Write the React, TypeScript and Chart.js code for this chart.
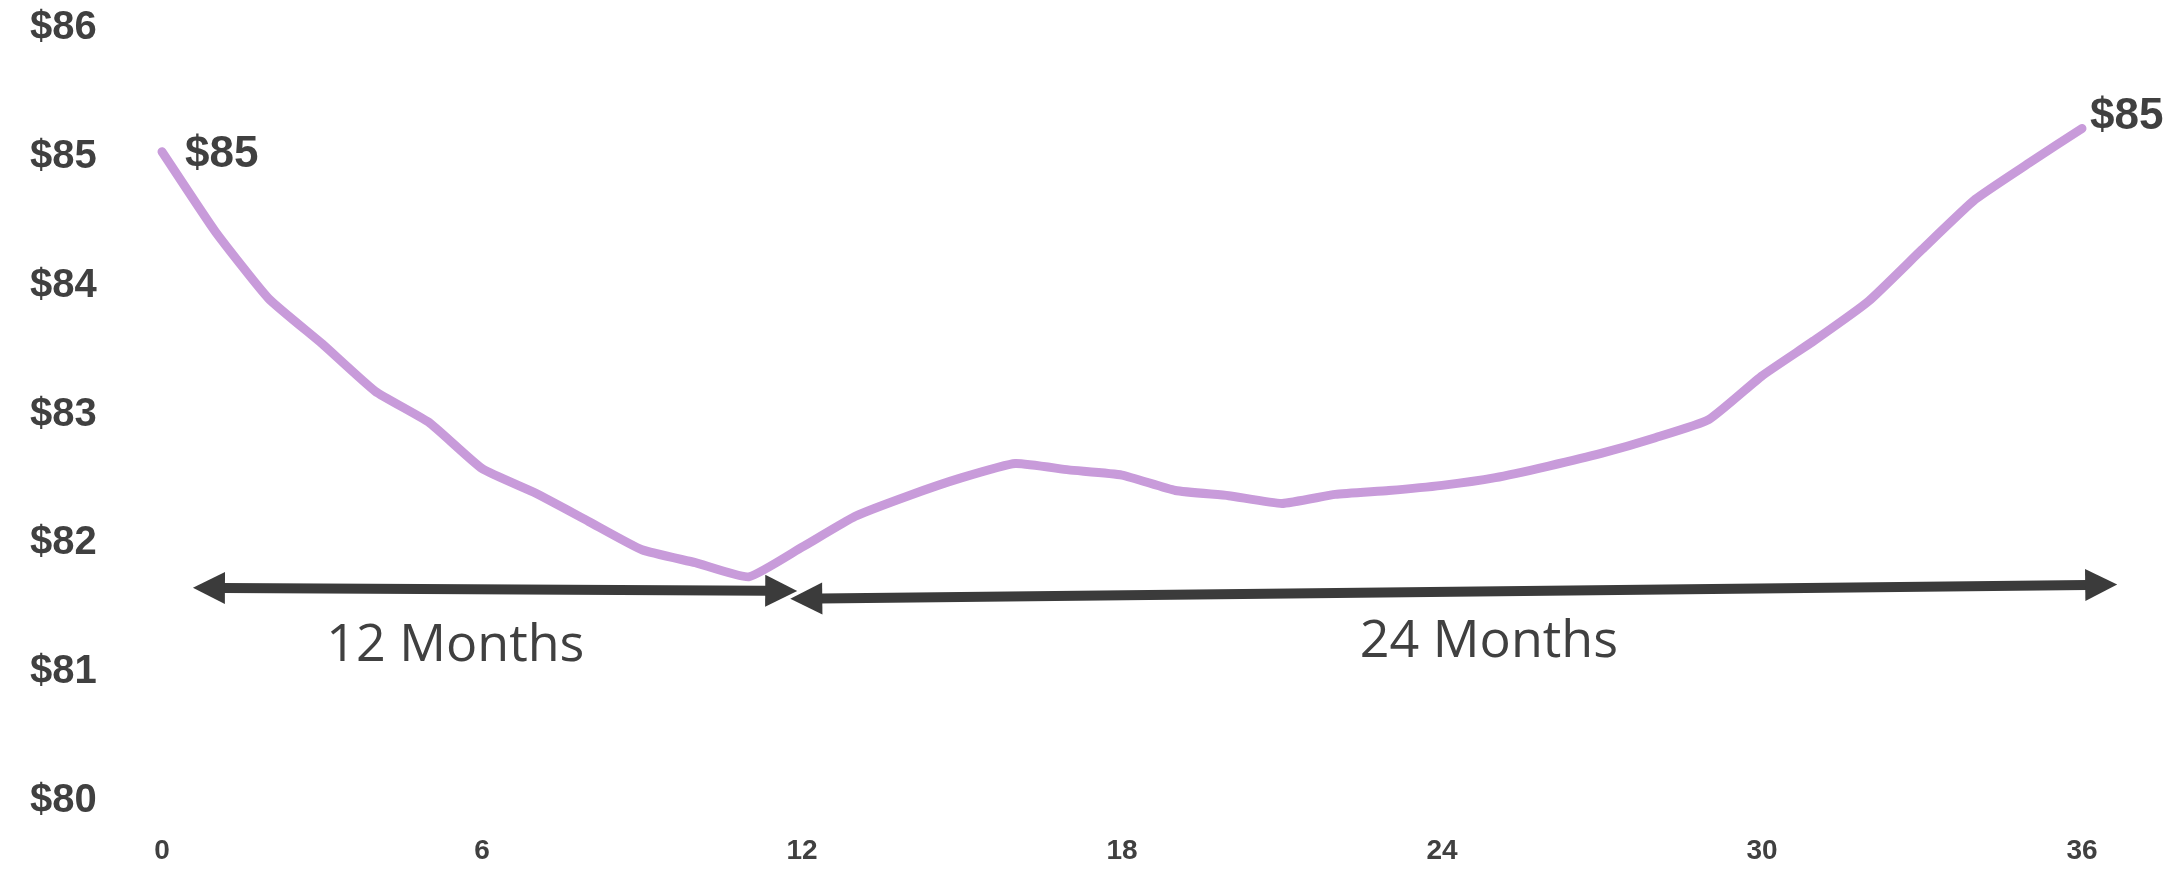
import React, { useEffect, useRef } from "react";
import { Chart, registerables } from "chart.js";

Chart.register(...registerables);

// ---- data ----
const months = [0, 1, 2, 3, 4, 5, 6, 7, 8, 9, 10, 11, 12, 13, 14, 15, 16, 17, 18, 19, 20, 21, 22, 23, 24, 25, 26, 27, 28, 29, 30, 31, 32, 33, 34, 35, 36];
const prices = [
  85.04, 84.42, 83.9, 83.55, 83.18, 82.94, 82.58, 82.39, 82.17, 81.95, 81.85, 81.74,
  81.97, 82.21, 82.37, 82.51, 82.62, 82.57, 82.53, 82.41, 82.37, 82.31, 82.38, 82.41,
  82.45, 82.51, 82.6, 82.7, 82.82, 82.96, 83.3, 83.58, 83.88, 84.28, 84.67, 84.95, 85.22,
];
const xTickValues = [0, 6, 12, 18, 24, 30, 36];
const yTickValues = [80, 81, 82, 83, 84, 85, 86];

// span arrows (double headed), in month / price units
const arrowFromMonth = [0.58, 11.78];
const arrowToMonth = [11.91, 36.66];
const arrowFromPrice = [81.655, 81.57];
const arrowToPrice = [81.63, 81.68];

const spanLabels = ["12 Months", "24 Months"];
const spanLabelMonth = [5.5, 24.88];
const spanLabelPrice = [81.2, 81.23];

const endLabels = ["$85", "$85"];
const endLabelIndex = [0, 36];

const LINE_COLOR = "#C89BDA";
const DARK = "#3b3b3b";
const TEXT = "#404040";

function drawDoubleArrow(ctx: CanvasRenderingContext2D, x1: number, y1: number, x2: number, y2: number) {
  const headLen = 32;
  const headHalf = 16;
  const dx = x2 - x1;
  const dy = y2 - y1;
  const len = Math.hypot(dx, dy);
  const ux = dx / len;
  const uy = dy / len;
  const nx = -uy;
  const ny = ux;
  ctx.save();
  ctx.strokeStyle = DARK;
  ctx.fillStyle = DARK;
  ctx.lineWidth = 10;
  ctx.lineCap = "butt";
  ctx.beginPath();
  ctx.moveTo(x1 + ux * (headLen - 2), y1 + uy * (headLen - 2));
  ctx.lineTo(x2 - ux * (headLen - 2), y2 - uy * (headLen - 2));
  ctx.stroke();
  ctx.beginPath();
  ctx.moveTo(x1, y1);
  ctx.lineTo(x1 + ux * headLen + nx * headHalf, y1 + uy * headLen + ny * headHalf);
  ctx.lineTo(x1 + ux * headLen - nx * headHalf, y1 + uy * headLen - ny * headHalf);
  ctx.closePath();
  ctx.fill();
  ctx.beginPath();
  ctx.moveTo(x2, y2);
  ctx.lineTo(x2 - ux * headLen + nx * headHalf, y2 - uy * headLen + ny * headHalf);
  ctx.lineTo(x2 - ux * headLen - nx * headHalf, y2 - uy * headLen - ny * headHalf);
  ctx.closePath();
  ctx.fill();
  ctx.restore();
}

const annotationPlugin = {
  id: "spanAnnotations",
  afterDatasetsDraw(chart: any) {
    const { ctx, scales } = chart;
    const xs = scales.x;
    const ys = scales.y;
    for (let i = 0; i < arrowFromMonth.length; i++) {
      drawDoubleArrow(
        ctx,
        xs.getPixelForValue(arrowFromMonth[i]),
        ys.getPixelForValue(arrowFromPrice[i]),
        xs.getPixelForValue(arrowToMonth[i]),
        ys.getPixelForValue(arrowToPrice[i])
      );
    }
    ctx.save();
    ctx.fillStyle = TEXT;
    ctx.font = "52px 'Open Sans', sans-serif";
    ctx.textAlign = "center";
    ctx.textBaseline = "middle";
    for (let i = 0; i < spanLabels.length; i++) {
      ctx.fillText(spanLabels[i], xs.getPixelForValue(spanLabelMonth[i]), ys.getPixelForValue(spanLabelPrice[i]));
    }
    ctx.font = "bold 44px 'Liberation Sans', Arial, sans-serif";
    ctx.textAlign = "left";
    const offsets = [
      [23, 3],
      [8, -12],
    ];
    for (let i = 0; i < endLabels.length; i++) {
      const idx = endLabelIndex[i];
      const px = xs.getPixelForValue(months[idx]);
      const py = ys.getPixelForValue(prices[idx]);
      ctx.fillText(endLabels[i], px + offsets[i][0], py + offsets[i][1]);
    }
    ctx.restore();
  },
};

export default function App() {
  const canvasRef = useRef<HTMLCanvasElement | null>(null);

  useEffect(() => {
    const canvas = canvasRef.current;
    if (!canvas) return;
    const chart = new Chart(canvas, {
      type: "line",
      data: {
        datasets: [
          {
            data: months.map((m, i) => ({ x: m, y: prices[i] })),
            borderColor: LINE_COLOR,
            borderWidth: 9,
            pointRadius: 0,
            tension: 0.15,
            borderJoinStyle: "round",
            borderCapStyle: "round",
            fill: false,
            clip: false as any,
          },
        ],
      },
      options: {
        responsive: false,
        animation: false,
        devicePixelRatio: 1,
        layout: { padding: { top: 28, right: 95, bottom: 0, left: 30 } },
        plugins: { legend: { display: false }, tooltip: { enabled: false } },
        scales: {
          x: {
            type: "linear",
            min: 0,
            max: 36,
            grid: { display: false, drawTicks: false },
            border: { display: false },
            afterBuildTicks: (s: any) => {
              s.ticks = xTickValues.map((v) => ({ value: v }));
            },
            afterFit: (s: any) => {
              s.height = 70;
            },
            ticks: {
              padding: 33,
              color: TEXT,
              font: { family: "'Liberation Sans', Arial, sans-serif", size: 28, weight: "bold" },
              maxRotation: 0,
              callback: (v: any) => String(v),
            },
          },
          y: {
            type: "linear",
            min: 80,
            max: 86,
            grid: { display: false, drawTicks: false },
            border: { display: false },
            afterBuildTicks: (s: any) => {
              s.ticks = yTickValues.map((v) => ({ value: v }));
            },
            afterFit: (s: any) => {
              s.width = 132;
            },
            ticks: {
              padding: 0,
              crossAlign: "far",
              color: TEXT,
              font: { family: "'Liberation Sans', Arial, sans-serif", size: 40, weight: "bold" },
              callback: (v: any) => "$" + v,
            },
          },
        },
      },
      plugins: [annotationPlugin],
    });
    return () => chart.destroy();
  }, []);

  return (
    <div style={{ position: "absolute", left: 0, top: 0, width: 2177, height: 871, background: "#ffffff" }}>
      <canvas ref={canvasRef} width={2177} height={871} style={{ width: 2177, height: 871, display: "block" }} />
    </div>
  );
}
